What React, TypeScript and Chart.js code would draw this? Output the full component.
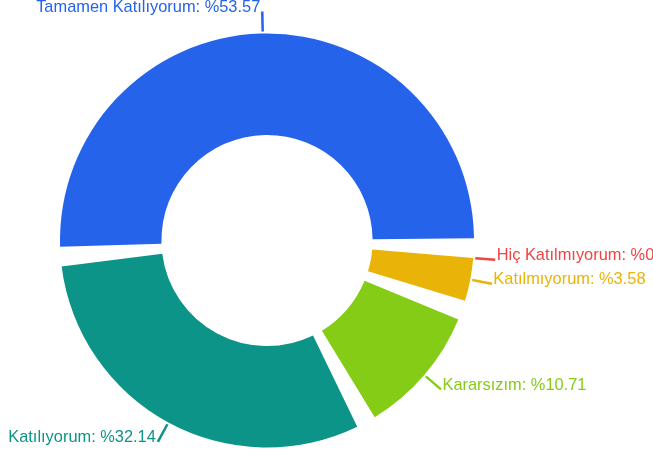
import React, { useEffect, useRef } from 'react';
import { Chart, registerables } from 'chart.js';

Chart.register(...registerables);

// Data (order: clockwise from the right side)
const categories = ['Hiç Katılmıyorum', 'Katılmıyorum', 'Kararsızım', 'Katılıyorum', 'Tamamen Katılıyorum'];
const percentages = [0, 3.58, 10.71, 32.14, 53.57];
const percentLabels = ['0', '3.58', '10.71', '32.14', '53.57'];
const colors = ['#ef4444', '#eab308', '#84cc16', '#0d9488', '#2563eb'];

const ROTATION_DEG = 92.1; // chart.js rotation (0 = top)
const PAD_DEG = 5.5; // angular gap between non-zero slices
const LABEL_FONT = '16.4px "Liberation Sans", Arial, sans-serif';

const padAnglePlugin = {
  id: 'padAngle',
  beforeDatasetsDraw(chart: any) {
    const meta = chart.getDatasetMeta(0);
    const arcs = meta.data;
    const vals: number[] = chart.data.datasets[0].data as number[];
    const total = vals.reduce((s, v) => s + v, 0);
    const nonZero = vals.filter((v) => v > 0).length;
    const pad = (PAD_DEG * Math.PI) / 180;
    const avail = 2 * Math.PI - pad * nonZero;
    let a = ((ROTATION_DEG - 90) * Math.PI) / 180;
    arcs.forEach((arc: any, i: number) => {
      const v = vals[i];
      if (v > 0) {
        const span = (v / total) * avail;
        const s = a + pad / 2;
        arc.startAngle = s;
        arc.endAngle = s + span;
        arc.circumference = span;
        a = s + span + pad / 2;
      } else {
        arc.startAngle = a + pad / 2;
        arc.endAngle = a + pad / 2;
        arc.circumference = 0;
      }
    });
  },
};

const labelPlugin = {
  id: 'outerLabels',
  afterDatasetsDraw(chart: any) {
    const ctx: CanvasRenderingContext2D = chart.ctx;
    const meta = chart.getDatasetMeta(0);
    ctx.save();
    ctx.font = LABEL_FONT;
    meta.data.forEach((arc: any, i: number) => {
      const { x, y, startAngle, endAngle, outerRadius } = arc;
      const mid = (startAngle + endAngle) / 2;
      const c = Math.cos(mid);
      const s = Math.sin(mid);
      const x0 = x + c * (outerRadius + 2);
      const y0 = y + s * (outerRadius + 2);
      const x1 = x + c * (outerRadius + 22);
      const y1 = y + s * (outerRadius + 22);
      ctx.strokeStyle = colors[i];
      ctx.lineWidth = 2.5;
      ctx.beginPath();
      ctx.moveTo(x0, y0);
      ctx.lineTo(x1, y1);
      ctx.stroke();
      ctx.fillStyle = colors[i];
      ctx.textBaseline = 'alphabetic';
      const right = c >= 0;
      ctx.textAlign = right ? 'left' : 'right';
      const text = `${categories[i]}: %${percentLabels[i]}`;
      ctx.fillText(text, right ? x1 + 1.5 : x1 - 2, y1 + 0.3);
    });
    ctx.restore();
  },
};

export default function App() {
  const canvasRef = useRef<HTMLCanvasElement | null>(null);

  useEffect(() => {
    if (!canvasRef.current) return;
    const chart = new Chart(canvasRef.current, {
      type: 'doughnut',
      data: {
        labels: categories,
        datasets: [
          {
            data: percentages,
            backgroundColor: colors,
            borderWidth: 0,
          },
        ],
      },
      options: {
        responsive: false,
        animation: false,
        devicePixelRatio: 1,
        rotation: ROTATION_DEG,
        cutout: '51%',
        layout: { padding: { left: 60, right: 179, top: 33.5, bottom: 9.5 } },
        plugins: {
          legend: { display: false },
          tooltip: { enabled: false },
        },
      } as any,
      plugins: [padAnglePlugin, labelPlugin],
    });
    return () => chart.destroy();
  }, []);

  return (
    <div style={{ position: 'fixed', left: 0, top: 0, width: 653, height: 457, background: '#fff' }}>
      <canvas ref={canvasRef} width={653} height={457} style={{ display: 'block' }} />
    </div>
  );
}
